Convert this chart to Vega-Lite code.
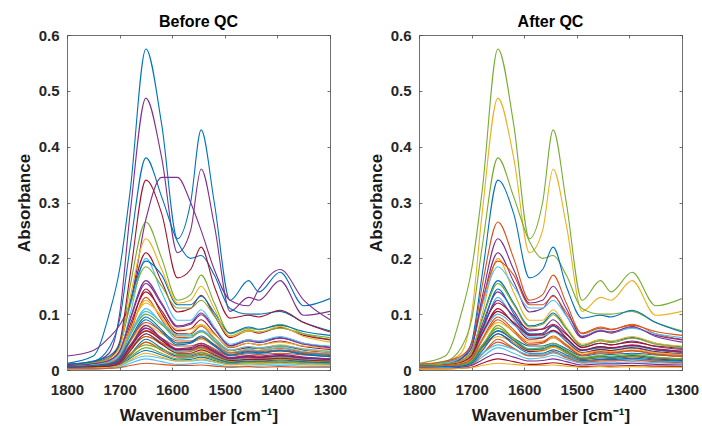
{
"$schema":"https://vega.github.io/schema/vega-lite/v6.json",
"padding":{"left":14,"top":13,"right":2,"bottom":2},
"spacing":18,
"config":{"font":"Liberation Sans","view":{"stroke":"#6e6e6e","strokeWidth":1},
"axis":{"grid":false,"domain":false,"tickColor":"#4d4d4d","tickSize":-3,"tickWidth":0.8,"labelColor":"#262626","labelFontSize":15,"labelFontWeight":"bold","titleFontSize":17,"titleFontWeight":"bold","titleColor":"#1a1a1a"},
"axisX":{"labelPadding":15,"labelFlush":false,"titlePadding":10},
"axisY":{"labelPadding":11,"titlePadding":5},
"title":{"fontSize":16,"fontWeight":"bold","color":"#000000","anchor":"middle","offset":-2}},
"datasets":{"sp":[
{"s":1,"x":1800,"y":0.003},{"s":1,"x":1750,"y":0.004},{"s":1,"x":1720,"y":0.005},{"s":1,"x":1700,"y":0.008},{"s":1,"x":1680,"y":0.021},{"s":1,"x":1650,"y":0.035},{"s":1,"x":1620,"y":0.027},{"s":1,"x":1590,"y":0.018},{"s":1,"x":1565,"y":0.019},{"s":1,"x":1545,"y":0.023},{"s":1,"x":1520,"y":0.017},{"s":1,"x":1490,"y":0.011},{"s":1,"x":1455,"y":0.013},{"s":1,"x":1435,"y":0.012},{"s":1,"x":1395,"y":0.014},{"s":1,"x":1350,"y":0.011},{"s":1,"x":1300,"y":0.010},
{"s":2,"x":1800,"y":0.006},{"s":2,"x":1750,"y":0.008},{"s":2,"x":1720,"y":0.011},{"s":2,"x":1700,"y":0.019},{"s":2,"x":1680,"y":0.044},{"s":2,"x":1650,"y":0.070},{"s":2,"x":1620,"y":0.057},{"s":2,"x":1590,"y":0.043},{"s":2,"x":1565,"y":0.043},{"s":2,"x":1545,"y":0.048},{"s":2,"x":1520,"y":0.038},{"s":2,"x":1490,"y":0.025},{"s":2,"x":1455,"y":0.029},{"s":2,"x":1435,"y":0.028},{"s":2,"x":1395,"y":0.030},{"s":2,"x":1350,"y":0.027},{"s":2,"x":1300,"y":0.024},
{"s":3,"x":1800,"y":0.004},{"s":3,"x":1750,"y":0.005},{"s":3,"x":1720,"y":0.007},{"s":3,"x":1700,"y":0.012},{"s":3,"x":1680,"y":0.029},{"s":3,"x":1650,"y":0.050},{"s":3,"x":1620,"y":0.038},{"s":3,"x":1590,"y":0.026},{"s":3,"x":1565,"y":0.027},{"s":3,"x":1545,"y":0.033},{"s":3,"x":1520,"y":0.024},{"s":3,"x":1490,"y":0.015},{"s":3,"x":1455,"y":0.018},{"s":3,"x":1435,"y":0.017},{"s":3,"x":1395,"y":0.019},{"s":3,"x":1350,"y":0.016},{"s":3,"x":1300,"y":0.014},
{"s":4,"x":1800,"y":0.010},{"s":4,"x":1750,"y":0.015},{"s":4,"x":1720,"y":0.030},{"s":4,"x":1700,"y":0.100},{"s":4,"x":1680,"y":0.280},{"s":4,"x":1650,"y":0.487},{"s":4,"x":1620,"y":0.380},{"s":4,"x":1590,"y":0.210},{"s":4,"x":1565,"y":0.250},{"s":4,"x":1545,"y":0.360},{"s":4,"x":1520,"y":0.260},{"s":4,"x":1490,"y":0.105},{"s":4,"x":1455,"y":0.130},{"s":4,"x":1435,"y":0.125},{"s":4,"x":1395,"y":0.160},{"s":4,"x":1350,"y":0.098},{"s":4,"x":1300,"y":0.105},
{"s":5,"x":1800,"y":0.005},{"s":5,"x":1750,"y":0.006},{"s":5,"x":1720,"y":0.008},{"s":5,"x":1700,"y":0.014},{"s":5,"x":1680,"y":0.035},{"s":5,"x":1650,"y":0.060},{"s":5,"x":1620,"y":0.046},{"s":5,"x":1590,"y":0.031},{"s":5,"x":1565,"y":0.033},{"s":5,"x":1545,"y":0.039},{"s":5,"x":1520,"y":0.029},{"s":5,"x":1490,"y":0.018},{"s":5,"x":1455,"y":0.022},{"s":5,"x":1435,"y":0.020},{"s":5,"x":1395,"y":0.023},{"s":5,"x":1350,"y":0.019},{"s":5,"x":1300,"y":0.017},
{"s":6,"x":1800,"y":0.003},{"s":6,"x":1750,"y":0.004},{"s":6,"x":1720,"y":0.005},{"s":6,"x":1700,"y":0.007},{"s":6,"x":1680,"y":0.016},{"s":6,"x":1650,"y":0.025},{"s":6,"x":1620,"y":0.021},{"s":6,"x":1590,"y":0.016},{"s":6,"x":1565,"y":0.016},{"s":6,"x":1545,"y":0.018},{"s":6,"x":1520,"y":0.014},{"s":6,"x":1490,"y":0.010},{"s":6,"x":1455,"y":0.011},{"s":6,"x":1435,"y":0.010},{"s":6,"x":1395,"y":0.011},{"s":6,"x":1350,"y":0.010},{"s":6,"x":1300,"y":0.009},
{"s":7,"x":1800,"y":0.008},{"s":7,"x":1750,"y":0.011},{"s":7,"x":1720,"y":0.016},{"s":7,"x":1700,"y":0.030},{"s":7,"x":1680,"y":0.081},{"s":7,"x":1650,"y":0.140},{"s":7,"x":1620,"y":0.106},{"s":7,"x":1590,"y":0.070},{"s":7,"x":1565,"y":0.074},{"s":7,"x":1545,"y":0.090},{"s":7,"x":1520,"y":0.066},{"s":7,"x":1490,"y":0.040},{"s":7,"x":1455,"y":0.048},{"s":7,"x":1435,"y":0.045},{"s":7,"x":1395,"y":0.052},{"s":7,"x":1350,"y":0.042},{"s":7,"x":1300,"y":0.037},
{"s":8,"x":1800,"y":0.012},{"s":8,"x":1750,"y":0.025},{"s":8,"x":1720,"y":0.100},{"s":8,"x":1700,"y":0.180},{"s":8,"x":1680,"y":0.320},{"s":8,"x":1650,"y":0.575},{"s":8,"x":1620,"y":0.440},{"s":8,"x":1590,"y":0.235},{"s":8,"x":1565,"y":0.300},{"s":8,"x":1545,"y":0.430},{"s":8,"x":1520,"y":0.300},{"s":8,"x":1490,"y":0.125},{"s":8,"x":1455,"y":0.160},{"s":8,"x":1435,"y":0.140},{"s":8,"x":1395,"y":0.175},{"s":8,"x":1350,"y":0.115},{"s":8,"x":1300,"y":0.128},
{"s":9,"x":1800,"y":0.006},{"s":9,"x":1750,"y":0.007},{"s":9,"x":1720,"y":0.011},{"s":9,"x":1700,"y":0.021},{"s":9,"x":1680,"y":0.066},{"s":9,"x":1650,"y":0.130},{"s":9,"x":1620,"y":0.090},{"s":9,"x":1590,"y":0.058},{"s":9,"x":1565,"y":0.058},{"s":9,"x":1545,"y":0.070},{"s":9,"x":1520,"y":0.051},{"s":9,"x":1490,"y":0.031},{"s":9,"x":1455,"y":0.036},{"s":9,"x":1435,"y":0.035},{"s":9,"x":1395,"y":0.039},{"s":9,"x":1350,"y":0.032},{"s":9,"x":1300,"y":0.028},
{"s":10,"x":1800,"y":0.007},{"s":10,"x":1750,"y":0.010},{"s":10,"x":1720,"y":0.016},{"s":10,"x":1700,"y":0.030},{"s":10,"x":1680,"y":0.075},{"s":10,"x":1650,"y":0.120},{"s":10,"x":1620,"y":0.097},{"s":10,"x":1590,"y":0.073},{"s":10,"x":1565,"y":0.073},{"s":10,"x":1545,"y":0.082},{"s":10,"x":1520,"y":0.064},{"s":10,"x":1490,"y":0.041},{"s":10,"x":1455,"y":0.048},{"s":10,"x":1435,"y":0.045},{"s":10,"x":1395,"y":0.050},{"s":10,"x":1350,"y":0.043},{"s":10,"x":1300,"y":0.039},
{"s":11,"x":1800,"y":0.008},{"s":11,"x":1750,"y":0.011},{"s":11,"x":1720,"y":0.017},{"s":11,"x":1700,"y":0.034},{"s":11,"x":1680,"y":0.092},{"s":11,"x":1650,"y":0.160},{"s":11,"x":1620,"y":0.120},{"s":11,"x":1590,"y":0.079},{"s":11,"x":1565,"y":0.084},{"s":11,"x":1545,"y":0.102},{"s":11,"x":1520,"y":0.075},{"s":11,"x":1490,"y":0.044},{"s":11,"x":1455,"y":0.054},{"s":11,"x":1435,"y":0.051},{"s":11,"x":1395,"y":0.058},{"s":11,"x":1350,"y":0.048},{"s":11,"x":1300,"y":0.041},
{"s":12,"x":1800,"y":0.006},{"s":12,"x":1750,"y":0.010},{"s":12,"x":1720,"y":0.020},{"s":12,"x":1700,"y":0.045},{"s":12,"x":1680,"y":0.150},{"s":12,"x":1650,"y":0.265},{"s":12,"x":1620,"y":0.200},{"s":12,"x":1590,"y":0.125},{"s":12,"x":1565,"y":0.135},{"s":12,"x":1545,"y":0.170},{"s":12,"x":1520,"y":0.120},{"s":12,"x":1490,"y":0.065},{"s":12,"x":1455,"y":0.075},{"s":12,"x":1435,"y":0.072},{"s":12,"x":1395,"y":0.082},{"s":12,"x":1350,"y":0.065},{"s":12,"x":1300,"y":0.055},
{"s":13,"x":1800,"y":0.008},{"s":13,"x":1750,"y":0.010},{"s":13,"x":1720,"y":0.016},{"s":13,"x":1700,"y":0.031},{"s":13,"x":1680,"y":0.100},{"s":13,"x":1650,"y":0.200},{"s":13,"x":1620,"y":0.139},{"s":13,"x":1590,"y":0.089},{"s":13,"x":1565,"y":0.089},{"s":13,"x":1545,"y":0.108},{"s":13,"x":1520,"y":0.077},{"s":13,"x":1490,"y":0.046},{"s":13,"x":1455,"y":0.054},{"s":13,"x":1435,"y":0.052},{"s":13,"x":1395,"y":0.060},{"s":13,"x":1350,"y":0.048},{"s":13,"x":1300,"y":0.043},
{"s":14,"x":1800,"y":0.010},{"s":14,"x":1750,"y":0.014},{"s":14,"x":1720,"y":0.022},{"s":14,"x":1700,"y":0.044},{"s":14,"x":1680,"y":0.120},{"s":14,"x":1650,"y":0.210},{"s":14,"x":1620,"y":0.158},{"s":14,"x":1590,"y":0.104},{"s":14,"x":1565,"y":0.110},{"s":14,"x":1545,"y":0.134},{"s":14,"x":1520,"y":0.098},{"s":14,"x":1490,"y":0.058},{"s":14,"x":1455,"y":0.070},{"s":14,"x":1435,"y":0.066},{"s":14,"x":1395,"y":0.076},{"s":14,"x":1350,"y":0.062},{"s":14,"x":1300,"y":0.054},
{"s":15,"x":1800,"y":0.008},{"s":15,"x":1750,"y":0.015},{"s":15,"x":1720,"y":0.040},{"s":15,"x":1700,"y":0.090},{"s":15,"x":1680,"y":0.220},{"s":15,"x":1650,"y":0.380},{"s":15,"x":1620,"y":0.310},{"s":15,"x":1590,"y":0.230},{"s":15,"x":1565,"y":0.200},{"s":15,"x":1545,"y":0.205},{"s":15,"x":1520,"y":0.170},{"s":15,"x":1490,"y":0.110},{"s":15,"x":1455,"y":0.100},{"s":15,"x":1435,"y":0.100},{"s":15,"x":1395,"y":0.105},{"s":15,"x":1350,"y":0.085},{"s":15,"x":1300,"y":0.070},
{"s":16,"x":1800,"y":0.004},{"s":16,"x":1750,"y":0.004},{"s":16,"x":1720,"y":0.006},{"s":16,"x":1700,"y":0.010},{"s":16,"x":1680,"y":0.026},{"s":16,"x":1650,"y":0.050},{"s":16,"x":1620,"y":0.035},{"s":16,"x":1590,"y":0.023},{"s":16,"x":1565,"y":0.023},{"s":16,"x":1545,"y":0.028},{"s":16,"x":1520,"y":0.021},{"s":16,"x":1490,"y":0.013},{"s":16,"x":1455,"y":0.015},{"s":16,"x":1435,"y":0.015},{"s":16,"x":1395,"y":0.016},{"s":16,"x":1350,"y":0.014},{"s":16,"x":1300,"y":0.012},
{"s":17,"x":1800,"y":0.006},{"s":17,"x":1750,"y":0.008},{"s":17,"x":1720,"y":0.012},{"s":17,"x":1700,"y":0.021},{"s":17,"x":1680,"y":0.050},{"s":17,"x":1650,"y":0.080},{"s":17,"x":1620,"y":0.065},{"s":17,"x":1590,"y":0.049},{"s":17,"x":1565,"y":0.049},{"s":17,"x":1545,"y":0.055},{"s":17,"x":1520,"y":0.043},{"s":17,"x":1490,"y":0.028},{"s":17,"x":1455,"y":0.033},{"s":17,"x":1435,"y":0.031},{"s":17,"x":1395,"y":0.034},{"s":17,"x":1350,"y":0.030},{"s":17,"x":1300,"y":0.027},
{"s":18,"x":1800,"y":0.025},{"s":18,"x":1750,"y":0.035},{"s":18,"x":1720,"y":0.058},{"s":18,"x":1700,"y":0.080},{"s":18,"x":1680,"y":0.120},{"s":18,"x":1650,"y":0.270},{"s":18,"x":1620,"y":0.345},{"s":18,"x":1590,"y":0.345},{"s":18,"x":1565,"y":0.300},{"s":18,"x":1545,"y":0.250},{"s":18,"x":1520,"y":0.180},{"s":18,"x":1490,"y":0.125},{"s":18,"x":1455,"y":0.115},{"s":18,"x":1435,"y":0.145},{"s":18,"x":1395,"y":0.180},{"s":18,"x":1350,"y":0.125},{"s":18,"x":1300,"y":0.090},
{"s":19,"x":1800,"y":0.008},{"s":19,"x":1750,"y":0.013},{"s":19,"x":1720,"y":0.022},{"s":19,"x":1700,"y":0.043},{"s":19,"x":1680,"y":0.114},{"s":19,"x":1650,"y":0.185},{"s":19,"x":1620,"y":0.150},{"s":19,"x":1590,"y":0.111},{"s":19,"x":1565,"y":0.111},{"s":19,"x":1545,"y":0.125},{"s":19,"x":1520,"y":0.097},{"s":19,"x":1490,"y":0.061},{"s":19,"x":1455,"y":0.072},{"s":19,"x":1435,"y":0.068},{"s":19,"x":1395,"y":0.075},{"s":19,"x":1350,"y":0.065},{"s":19,"x":1300,"y":0.058},
{"s":20,"x":1800,"y":0.006},{"s":20,"x":1750,"y":0.008},{"s":20,"x":1720,"y":0.012},{"s":20,"x":1700,"y":0.024},{"s":20,"x":1680,"y":0.063},{"s":20,"x":1650,"y":0.110},{"s":20,"x":1620,"y":0.083},{"s":20,"x":1590,"y":0.055},{"s":20,"x":1565,"y":0.058},{"s":20,"x":1545,"y":0.070},{"s":20,"x":1520,"y":0.052},{"s":20,"x":1490,"y":0.031},{"s":20,"x":1455,"y":0.037},{"s":20,"x":1435,"y":0.035},{"s":20,"x":1395,"y":0.040},{"s":20,"x":1350,"y":0.033},{"s":20,"x":1300,"y":0.029},
{"s":21,"x":1800,"y":0.006},{"s":21,"x":1750,"y":0.010},{"s":21,"x":1720,"y":0.020},{"s":21,"x":1700,"y":0.050},{"s":21,"x":1680,"y":0.170},{"s":21,"x":1650,"y":0.340},{"s":21,"x":1620,"y":0.280},{"s":21,"x":1590,"y":0.165},{"s":21,"x":1565,"y":0.180},{"s":21,"x":1545,"y":0.220},{"s":21,"x":1520,"y":0.150},{"s":21,"x":1490,"y":0.093},{"s":21,"x":1455,"y":0.098},{"s":21,"x":1435,"y":0.095},{"s":21,"x":1395,"y":0.107},{"s":21,"x":1350,"y":0.085},{"s":21,"x":1300,"y":0.068},
{"s":22,"x":1800,"y":0.010},{"s":22,"x":1750,"y":0.016},{"s":22,"x":1720,"y":0.025},{"s":22,"x":1700,"y":0.047},{"s":22,"x":1680,"y":0.121},{"s":22,"x":1650,"y":0.195},{"s":22,"x":1620,"y":0.170},{"s":22,"x":1590,"y":0.117},{"s":22,"x":1565,"y":0.117},{"s":22,"x":1545,"y":0.132},{"s":22,"x":1520,"y":0.103},{"s":22,"x":1490,"y":0.066},{"s":22,"x":1455,"y":0.077},{"s":22,"x":1435,"y":0.073},{"s":22,"x":1395,"y":0.080},{"s":22,"x":1350,"y":0.069},{"s":22,"x":1300,"y":0.062},
{"s":23,"x":1800,"y":0.005},{"s":23,"x":1750,"y":0.006},{"s":23,"x":1720,"y":0.008},{"s":23,"x":1700,"y":0.013},{"s":23,"x":1680,"y":0.039},{"s":23,"x":1650,"y":0.075},{"s":23,"x":1620,"y":0.053},{"s":23,"x":1590,"y":0.034},{"s":23,"x":1565,"y":0.034},{"s":23,"x":1545,"y":0.041},{"s":23,"x":1520,"y":0.030},{"s":23,"x":1490,"y":0.019},{"s":23,"x":1455,"y":0.022},{"s":23,"x":1435,"y":0.021},{"s":23,"x":1395,"y":0.024},{"s":23,"x":1350,"y":0.020},{"s":23,"x":1300,"y":0.018},
{"s":24,"x":1800,"y":0.006},{"s":24,"x":1750,"y":0.010},{"s":24,"x":1720,"y":0.020},{"s":24,"x":1700,"y":0.040},{"s":24,"x":1680,"y":0.130},{"s":24,"x":1650,"y":0.235},{"s":24,"x":1620,"y":0.180},{"s":24,"x":1590,"y":0.120},{"s":24,"x":1565,"y":0.125},{"s":24,"x":1545,"y":0.150},{"s":24,"x":1520,"y":0.110},{"s":24,"x":1490,"y":0.060},{"s":24,"x":1455,"y":0.070},{"s":24,"x":1435,"y":0.068},{"s":24,"x":1395,"y":0.078},{"s":24,"x":1350,"y":0.060},{"s":24,"x":1300,"y":0.050},
{"s":25,"x":1800,"y":0.008},{"s":25,"x":1750,"y":0.011},{"s":25,"x":1720,"y":0.017},{"s":25,"x":1700,"y":0.033},{"s":25,"x":1680,"y":0.089},{"s":25,"x":1650,"y":0.155},{"s":25,"x":1620,"y":0.117},{"s":25,"x":1590,"y":0.077},{"s":25,"x":1565,"y":0.082},{"s":25,"x":1545,"y":0.099},{"s":25,"x":1520,"y":0.073},{"s":25,"x":1490,"y":0.043},{"s":25,"x":1455,"y":0.052},{"s":25,"x":1435,"y":0.049},{"s":25,"x":1395,"y":0.057},{"s":25,"x":1350,"y":0.046},{"s":25,"x":1300,"y":0.040},
{"s":26,"x":1800,"y":0.006},{"s":26,"x":1750,"y":0.009},{"s":26,"x":1720,"y":0.014},{"s":26,"x":1700,"y":0.025},{"s":26,"x":1680,"y":0.062},{"s":26,"x":1650,"y":0.100},{"s":26,"x":1620,"y":0.081},{"s":26,"x":1590,"y":0.061},{"s":26,"x":1565,"y":0.061},{"s":26,"x":1545,"y":0.068},{"s":26,"x":1520,"y":0.053},{"s":26,"x":1490,"y":0.034},{"s":26,"x":1455,"y":0.040},{"s":26,"x":1435,"y":0.038},{"s":26,"x":1395,"y":0.042},{"s":26,"x":1350,"y":0.036},{"s":26,"x":1300,"y":0.032},
{"s":27,"x":1800,"y":0.004},{"s":27,"x":1750,"y":0.005},{"s":27,"x":1720,"y":0.008},{"s":27,"x":1700,"y":0.014},{"s":27,"x":1680,"y":0.038},{"s":27,"x":1650,"y":0.065},{"s":27,"x":1620,"y":0.049},{"s":27,"x":1590,"y":0.033},{"s":27,"x":1565,"y":0.035},{"s":27,"x":1545,"y":0.042},{"s":27,"x":1520,"y":0.031},{"s":27,"x":1490,"y":0.019},{"s":27,"x":1455,"y":0.022},{"s":27,"x":1435,"y":0.021},{"s":27,"x":1395,"y":0.024},{"s":27,"x":1350,"y":0.020},{"s":27,"x":1300,"y":0.017},
{"s":28,"x":1800,"y":0.007},{"s":28,"x":1750,"y":0.008},{"s":28,"x":1720,"y":0.013},{"s":28,"x":1700,"y":0.024},{"s":28,"x":1680,"y":0.073},{"s":28,"x":1650,"y":0.145},{"s":28,"x":1620,"y":0.101},{"s":28,"x":1590,"y":0.065},{"s":28,"x":1565,"y":0.065},{"s":28,"x":1545,"y":0.079},{"s":28,"x":1520,"y":0.057},{"s":28,"x":1490,"y":0.035},{"s":28,"x":1455,"y":0.040},{"s":28,"x":1435,"y":0.039},{"s":28,"x":1395,"y":0.044},{"s":28,"x":1350,"y":0.036},{"s":28,"x":1300,"y":0.032},
{"s":29,"x":1800,"y":0.006},{"s":29,"x":1750,"y":0.008},{"s":29,"x":1720,"y":0.011},{"s":29,"x":1700,"y":0.020},{"s":29,"x":1680,"y":0.052},{"s":29,"x":1650,"y":0.090},{"s":29,"x":1620,"y":0.068},{"s":29,"x":1590,"y":0.045},{"s":29,"x":1565,"y":0.048},{"s":29,"x":1545,"y":0.058},{"s":29,"x":1520,"y":0.043},{"s":29,"x":1490,"y":0.026},{"s":29,"x":1455,"y":0.031},{"s":29,"x":1435,"y":0.030},{"s":29,"x":1395,"y":0.034},{"s":29,"x":1350,"y":0.028},{"s":29,"x":1300,"y":0.024},
{"s":30,"x":1800,"y":0.004},{"s":30,"x":1750,"y":0.006},{"s":30,"x":1720,"y":0.008},{"s":30,"x":1700,"y":0.015},{"s":30,"x":1680,"y":0.038},{"s":30,"x":1650,"y":0.060},{"s":30,"x":1620,"y":0.049},{"s":30,"x":1590,"y":0.036},{"s":30,"x":1565,"y":0.036},{"s":30,"x":1545,"y":0.041},{"s":30,"x":1520,"y":0.032},{"s":30,"x":1490,"y":0.021},{"s":30,"x":1455,"y":0.024},{"s":30,"x":1435,"y":0.023},{"s":30,"x":1395,"y":0.025},{"s":30,"x":1350,"y":0.022},{"s":30,"x":1300,"y":0.020},
{"s":31,"x":1800,"y":0.006},{"s":31,"x":1750,"y":0.008},{"s":31,"x":1720,"y":0.013},{"s":31,"x":1700,"y":0.026},{"s":31,"x":1680,"y":0.071},{"s":31,"x":1650,"y":0.125},{"s":31,"x":1620,"y":0.094},{"s":31,"x":1590,"y":0.062},{"s":31,"x":1565,"y":0.066},{"s":31,"x":1545,"y":0.080},{"s":31,"x":1520,"y":0.058},{"s":31,"x":1490,"y":0.035},{"s":31,"x":1455,"y":0.042},{"s":31,"x":1435,"y":0.039},{"s":31,"x":1395,"y":0.045},{"s":31,"x":1350,"y":0.037},{"s":31,"x":1300,"y":0.032},
{"s":32,"x":1800,"y":0.005},{"s":32,"x":1750,"y":0.006},{"s":32,"x":1720,"y":0.008},{"s":32,"x":1700,"y":0.014},{"s":32,"x":1680,"y":0.041},{"s":32,"x":1650,"y":0.080},{"s":32,"x":1620,"y":0.056},{"s":32,"x":1590,"y":0.037},{"s":32,"x":1565,"y":0.037},{"s":32,"x":1545,"y":0.044},{"s":32,"x":1520,"y":0.032},{"s":32,"x":1490,"y":0.020},{"s":32,"x":1455,"y":0.023},{"s":32,"x":1435,"y":0.022},{"s":32,"x":1395,"y":0.025},{"s":32,"x":1350,"y":0.021},{"s":32,"x":1300,"y":0.019},
{"s":33,"x":1800,"y":0.003},{"s":33,"x":1750,"y":0.004},{"s":33,"x":1720,"y":0.005},{"s":33,"x":1700,"y":0.009},{"s":33,"x":1680,"y":0.023},{"s":33,"x":1650,"y":0.040},{"s":33,"x":1620,"y":0.030},{"s":33,"x":1590,"y":0.020},{"s":33,"x":1565,"y":0.022},{"s":33,"x":1545,"y":0.026},{"s":33,"x":1520,"y":0.019},{"s":33,"x":1490,"y":0.012},{"s":33,"x":1455,"y":0.014},{"s":33,"x":1435,"y":0.013},{"s":33,"x":1395,"y":0.015},{"s":33,"x":1350,"y":0.013},{"s":33,"x":1300,"y":0.011},
{"s":34,"x":1800,"y":0.006},{"s":34,"x":1750,"y":0.009},{"s":34,"x":1720,"y":0.014},{"s":34,"x":1700,"y":0.026},{"s":34,"x":1680,"y":0.065},{"s":34,"x":1650,"y":0.105},{"s":34,"x":1620,"y":0.085},{"s":34,"x":1590,"y":0.063},{"s":34,"x":1565,"y":0.063},{"s":34,"x":1545,"y":0.071},{"s":34,"x":1520,"y":0.056},{"s":34,"x":1490,"y":0.036},{"s":34,"x":1455,"y":0.042},{"s":34,"x":1435,"y":0.040},{"s":34,"x":1395,"y":0.044},{"s":34,"x":1350,"y":0.038},{"s":34,"x":1300,"y":0.034},
{"s":35,"x":1800,"y":0.005},{"s":35,"x":1750,"y":0.006},{"s":35,"x":1720,"y":0.009},{"s":35,"x":1700,"y":0.016},{"s":35,"x":1680,"y":0.041},{"s":35,"x":1650,"y":0.070},{"s":35,"x":1620,"y":0.053},{"s":35,"x":1590,"y":0.036},{"s":35,"x":1565,"y":0.038},{"s":35,"x":1545,"y":0.045},{"s":35,"x":1520,"y":0.034},{"s":35,"x":1490,"y":0.021},{"s":35,"x":1455,"y":0.025},{"s":35,"x":1435,"y":0.023},{"s":35,"x":1395,"y":0.026},{"s":35,"x":1350,"y":0.022},{"s":35,"x":1300,"y":0.019},
{"s":36,"x":1800,"y":0.004},{"s":36,"x":1750,"y":0.005},{"s":36,"x":1720,"y":0.006},{"s":36,"x":1700,"y":0.010},{"s":36,"x":1680,"y":0.028},{"s":36,"x":1650,"y":0.055},{"s":36,"x":1620,"y":0.039},{"s":36,"x":1590,"y":0.025},{"s":36,"x":1565,"y":0.025},{"s":36,"x":1545,"y":0.031},{"s":36,"x":1520,"y":0.022},{"s":36,"x":1490,"y":0.014},{"s":36,"x":1455,"y":0.016},{"s":36,"x":1435,"y":0.016},{"s":36,"x":1395,"y":0.018},{"s":36,"x":1350,"y":0.015},{"s":36,"x":1300,"y":0.013},
{"s":37,"x":1800,"y":0.006},{"s":37,"x":1750,"y":0.008},{"s":37,"x":1720,"y":0.012},{"s":37,"x":1700,"y":0.022},{"s":37,"x":1680,"y":0.053},{"s":37,"x":1650,"y":0.085},{"s":37,"x":1620,"y":0.069},{"s":37,"x":1590,"y":0.052},{"s":37,"x":1565,"y":0.052},{"s":37,"x":1545,"y":0.058},{"s":37,"x":1520,"y":0.046},{"s":37,"x":1490,"y":0.030},{"s":37,"x":1455,"y":0.034},{"s":37,"x":1435,"y":0.033},{"s":37,"x":1395,"y":0.036},{"s":37,"x":1350,"y":0.031},{"s":37,"x":1300,"y":0.028},
{"s":38,"x":1800,"y":0.003},{"s":38,"x":1750,"y":0.004},{"s":38,"x":1720,"y":0.005},{"s":38,"x":1700,"y":0.008},{"s":38,"x":1680,"y":0.018},{"s":38,"x":1650,"y":0.030},{"s":38,"x":1620,"y":0.023},{"s":38,"x":1590,"y":0.016},{"s":38,"x":1565,"y":0.017},{"s":38,"x":1545,"y":0.020},{"s":38,"x":1520,"y":0.015},{"s":38,"x":1490,"y":0.009},{"s":38,"x":1455,"y":0.011},{"s":38,"x":1435,"y":0.011},{"s":38,"x":1395,"y":0.012},{"s":38,"x":1350,"y":0.010},{"s":38,"x":1300,"y":0.009},
{"s":39,"x":1800,"y":0.005},{"s":39,"x":1750,"y":0.006},{"s":39,"x":1720,"y":0.009},{"s":39,"x":1700,"y":0.017},{"s":39,"x":1680,"y":0.044},{"s":39,"x":1650,"y":0.075},{"s":39,"x":1620,"y":0.057},{"s":39,"x":1590,"y":0.038},{"s":39,"x":1565,"y":0.040},{"s":39,"x":1545,"y":0.048},{"s":39,"x":1520,"y":0.036},{"s":39,"x":1490,"y":0.022},{"s":39,"x":1455,"y":0.026},{"s":39,"x":1435,"y":0.025},{"s":39,"x":1395,"y":0.028},{"s":39,"x":1350,"y":0.023},{"s":39,"x":1300,"y":0.020},
{"s":40,"x":1800,"y":0.004},{"s":40,"x":1750,"y":0.005},{"s":40,"x":1720,"y":0.007},{"s":40,"x":1700,"y":0.012},{"s":40,"x":1680,"y":0.029},{"s":40,"x":1650,"y":0.045},{"s":40,"x":1620,"y":0.037},{"s":40,"x":1590,"y":0.028},{"s":40,"x":1565,"y":0.028},{"s":40,"x":1545,"y":0.031},{"s":40,"x":1520,"y":0.025},{"s":40,"x":1490,"y":0.016},{"s":40,"x":1455,"y":0.019},{"s":40,"x":1435,"y":0.018},{"s":40,"x":1395,"y":0.020},{"s":40,"x":1350,"y":0.017},{"s":40,"x":1300,"y":0.015},
{"s":41,"x":1800,"y":0.002},{"s":41,"x":1750,"y":0.002},{"s":41,"x":1720,"y":0.003},{"s":41,"x":1700,"y":0.005},{"s":41,"x":1680,"y":0.012},{"s":41,"x":1650,"y":0.020},{"s":41,"x":1620,"y":0.015},{"s":41,"x":1590,"y":0.010},{"s":41,"x":1565,"y":0.011},{"s":41,"x":1545,"y":0.013},{"s":41,"x":1520,"y":0.010},{"s":41,"x":1490,"y":0.006},{"s":41,"x":1455,"y":0.007},{"s":41,"x":1435,"y":0.007},{"s":41,"x":1395,"y":0.008},{"s":41,"x":1350,"y":0.007},{"s":41,"x":1300,"y":0.006},
{"s":42,"x":1800,"y":0.005},{"s":42,"x":1750,"y":0.006},{"s":42,"x":1720,"y":0.007},{"s":42,"x":1700,"y":0.012},{"s":42,"x":1680,"y":0.034},{"s":42,"x":1650,"y":0.065},{"s":42,"x":1620,"y":0.046},{"s":42,"x":1590,"y":0.030},{"s":42,"x":1565,"y":0.030},{"s":42,"x":1545,"y":0.036},{"s":42,"x":1520,"y":0.027},{"s":42,"x":1490,"y":0.017},{"s":42,"x":1455,"y":0.019},{"s":42,"x":1435,"y":0.019},{"s":42,"x":1395,"y":0.021},{"s":42,"x":1350,"y":0.018},{"s":42,"x":1300,"y":0.016},
{"s":43,"x":1800,"y":0.006},{"s":43,"x":1750,"y":0.008},{"s":43,"x":1720,"y":0.011},{"s":43,"x":1700,"y":0.021},{"s":43,"x":1680,"y":0.055},{"s":43,"x":1650,"y":0.095},{"s":43,"x":1620,"y":0.072},{"s":43,"x":1590,"y":0.048},{"s":43,"x":1565,"y":0.050},{"s":43,"x":1545,"y":0.061},{"s":43,"x":1520,"y":0.045},{"s":43,"x":1490,"y":0.027},{"s":43,"x":1455,"y":0.033},{"s":43,"x":1435,"y":0.031},{"s":43,"x":1395,"y":0.035},{"s":43,"x":1350,"y":0.029},{"s":43,"x":1300,"y":0.026},
{"s":44,"x":1800,"y":0.002},{"s":44,"x":1750,"y":0.002},{"s":44,"x":1720,"y":0.003},{"s":44,"x":1700,"y":0.004},{"s":44,"x":1680,"y":0.008},{"s":44,"x":1650,"y":0.012},{"s":44,"x":1620,"y":0.010},{"s":44,"x":1590,"y":0.008},{"s":44,"x":1565,"y":0.008},{"s":44,"x":1545,"y":0.009},{"s":44,"x":1520,"y":0.007},{"s":44,"x":1490,"y":0.005},{"s":44,"x":1455,"y":0.006},{"s":44,"x":1435,"y":0.005},{"s":44,"x":1395,"y":0.006},{"s":44,"x":1350,"y":0.005},{"s":44,"x":1300,"y":0.005}
]},
"hconcat":[
{"width":263,"height":335,"title":"Before QC","data":{"name":"sp"},
"layer":[
{"mark":{"type":"line","interpolate":"monotone","strokeWidth":1.1,"clip":true},
"encoding":{
"x":{"field":"x","type":"quantitative","scale":{"domain":[1300,1800],"reverse":true,"nice":false,"zero":false},"axis":{"orient":"bottom","values":[1800,1700,1600,1500,1400,1300],"format":"d","title":"Wavenumber [cm⁻¹]"}},
"y":{"field":"y","type":"quantitative","scale":{"domain":[0,0.6],"nice":false,"zero":false},"axis":{"orient":"left","values":[0,0.1,0.2,0.3,0.4,0.5,0.6],"labelExpr":"datum.value == 0 ? '0' : format(datum.value, '.1f')","title":"Absorbance"}},
"color":{"field":"s","type":"nominal","scale":{"range":["#0072BD","#D95319","#EDB120","#7E2F8E","#77AC30","#4DBEEE","#A2142F"]},"legend":null}}},
{"mark":{"type":"line","opacity":0},
"encoding":{
"x":{"field":"x","type":"quantitative","scale":{"domain":[1300,1800],"reverse":true,"nice":false,"zero":false},"axis":{"orient":"top","values":[1800,1700,1600,1500,1400,1300],"labels":false,"title":null}},
"y":{"field":"y","type":"quantitative","scale":{"domain":[0,0.6],"nice":false,"zero":false},"axis":{"orient":"right","values":[0,0.1,0.2,0.3,0.4,0.5,0.6],"labels":false,"title":null}},
"detail":{"field":"s","type":"nominal"}}}
],
"resolve":{"axis":{"x":"independent","y":"independent"}}},
{"width":263,"height":335,"title":"After QC","data":{"name":"sp"},
"transform":[{"filter":{"not":{"field":"s","oneOf":[1,5,6,16,17,18]}}}],
"layer":[
{"mark":{"type":"line","interpolate":"monotone","strokeWidth":1.1,"clip":true},
"encoding":{
"x":{"field":"x","type":"quantitative","scale":{"domain":[1300,1800],"reverse":true,"nice":false,"zero":false},"axis":{"orient":"bottom","values":[1800,1700,1600,1500,1400,1300],"format":"d","title":"Wavenumber [cm⁻¹]"}},
"y":{"field":"y","type":"quantitative","scale":{"domain":[0,0.6],"nice":false,"zero":false},"axis":{"orient":"left","values":[0,0.1,0.2,0.3,0.4,0.5,0.6],"labelExpr":"datum.value == 0 ? '0' : format(datum.value, '.1f')","title":"Absorbance"}},
"color":{"field":"s","type":"nominal","scale":{"range":["#0072BD","#D95319","#EDB120","#7E2F8E","#77AC30","#4DBEEE","#A2142F"]},"legend":null}}},
{"mark":{"type":"line","opacity":0},
"encoding":{
"x":{"field":"x","type":"quantitative","scale":{"domain":[1300,1800],"reverse":true,"nice":false,"zero":false},"axis":{"orient":"top","values":[1800,1700,1600,1500,1400,1300],"labels":false,"title":null}},
"y":{"field":"y","type":"quantitative","scale":{"domain":[0,0.6],"nice":false,"zero":false},"axis":{"orient":"right","values":[0,0.1,0.2,0.3,0.4,0.5,0.6],"labels":false,"title":null}},
"detail":{"field":"s","type":"nominal"}}}
],
"resolve":{"axis":{"x":"independent","y":"independent"}}}
],
"resolve":{"scale":{"color":"independent"}}
}
